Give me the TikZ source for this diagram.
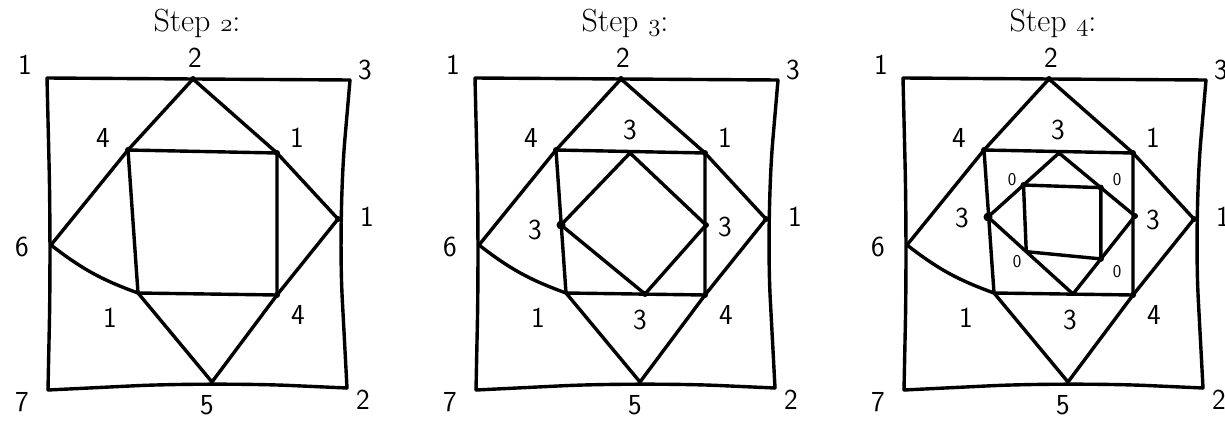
\documentclass[tikz,border=0pt]{standalone}
\usepackage{tikz}
\usetikzlibrary{calc}

\begin{document}
\begin{tikzpicture}[x=1pt,y=-1pt,
  edge/.style={line width=3.4pt,line cap=round,line join=round},
  num/.style={font=\sffamily\fontsize{29}{29}\selectfont,inner sep=0pt},
  zero/.style={font=\sffamily\fontsize{18}{18}\selectfont,inner sep=0pt},
  title/.style={font=\fontsize{32}{36}\selectfont,inner sep=0pt}]
\useasboundingbox (0,0) rectangle (1225,420);
\clip (0,0) rectangle (1225,420);

% the part that every step shares
\foreach \p/\dx/\s in {a/0/2,b/428/3,c/856/4}{
  \begin{scope}[xshift=\dx pt]
    \node[title] (title-\p) at (197,23) {Step $\mathnormal{\s}$:};
    \coordinate (o1-\p) at (47,78);
    \coordinate (o2-\p) at (350,80);
    \coordinate (o3-\p) at (347,388);
    \coordinate (o4-\p) at (48,390);
    \coordinate (mt-\p) at (193,79);
    \coordinate (mr-\p) at (338,219);
    \coordinate (mb-\p) at (212,382);
    \coordinate (ml-\p) at (51,245);
    \coordinate (i1-\p) at (128,150);
    \coordinate (i2-\p) at (277,153);
    \coordinate (i3-\p) at (277,295);
    \coordinate (i4-\p) at (138,293);
    \draw[edge,rounded corners=80pt] (o1-\p) -- (mt-\p) -- (o2-\p);
    \draw[edge,rounded corners=80pt] (o2-\p) -- (mr-\p) -- (o3-\p);
    \draw[edge,rounded corners=80pt] (o3-\p) -- (mb-\p) -- (o4-\p);
    \draw[edge,rounded corners=80pt] (o4-\p) -- (ml-\p) -- (o1-\p);
    \draw[edge] (i1-\p) -- (i2-\p) -- (i3-\p) -- (i4-\p) -- cycle;
    \draw[edge] (ml-\p) -- (i1-\p) -- (mt-\p) -- (i2-\p) -- (mr-\p)
      -- (i3-\p) -- (mb-\p) -- (i4-\p);
    \draw[edge] (ml-\p) to[bend right=9] (i4-\p);
    \foreach \v in {mt,i1,i2,i3,mr}
      \fill (\v-\p) circle (3pt);
    \node[num] (ltl-\p) at (25,65) {1};
    \node[num] (lt-\p) at (195,58) {2};
    \node[num] (ltr-\p) at (365,70) {3};
    \node[num] (ll-\p) at (22,247) {6};
    \node[num] (lr-\p) at (367,217) {1};
    \node[num] (lbl-\p) at (22,402) {7};
    \node[num] (lb-\p) at (207,405) {5};
    \node[num] (lbr-\p) at (363,400) {2};
    \node[num] (lul-\p) at (103,138) {4};
    \node[num] (lur-\p) at (297,138) {1};
    \node[num] (lll-\p) at (110,318) {1};
    \node[num] (llr-\p) at (298,315) {4};
  \end{scope}
}

% step 3: the diamond inside
\begin{scope}[xshift=428pt]
  \coordinate (d1-b) at (202,153);
  \coordinate (d2-b) at (278,225);
  \coordinate (d3-b) at (217,294);
  \coordinate (d4-b) at (133,225);
  \draw[edge] (d1-b) -- (d2-b) -- (d3-b) -- (d4-b) -- cycle;
  \foreach \v in {d1,d2,d3}
    \fill (\v-b) circle (3pt);
  \fill (d4-b) circle (4.5pt);
  \node[num] (dt-b) at (202,130) {3};
  \node[num] (dl-b) at (107,230) {3};
  \node[num] (dr-b) at (297,227) {3};
  \node[num] (db-b) at (212,320) {3};
\end{scope}

% step 4: diamond and the square inside it
\begin{scope}[xshift=856pt]
  \coordinate (d1-c) at (203,153);
  \coordinate (d2-c) at (279,216);
  \coordinate (d3-c) at (217,294);
  \coordinate (d4-c) at (132,217);
  \coordinate (s1-c) at ($(d1-c)!0.5!(d4-c)$);
  \coordinate (s2-c) at ($(d1-c)!0.55!(d2-c)$);
  \coordinate (s3-c) at ($(d2-c)!0.55!(d3-c)$);
  \coordinate (s4-c) at ($(d4-c)!0.45!(d3-c)$);
  \draw[edge] (d1-c) -- (d2-c) -- (d3-c) -- (d4-c) -- cycle;
  \draw[edge] (s1-c) -- (s2-c) -- (s3-c) -- (s4-c) -- cycle;
  \foreach \v in {d1,d2,s1,s2,s3}
    \fill (\v-c) circle (3pt);
  \fill (d4-c) circle (4.5pt);
  \node[num] (dt-c) at (202,130) {3};
  \node[num] (dl-c) at (106,218) {3};
  \node[num] (dr-c) at (297,220) {3};
  \node[num] (db-c) at (214,320) {3};
  \node[zero] (z1-c) at (156,180) {0};
  \node[zero] (z2-c) at (261,180) {0};
  \node[zero] (z3-c) at (161,262) {0};
  \node[zero] (z4-c) at (261,272) {0};
\end{scope}
\end{tikzpicture}
\end{document}
